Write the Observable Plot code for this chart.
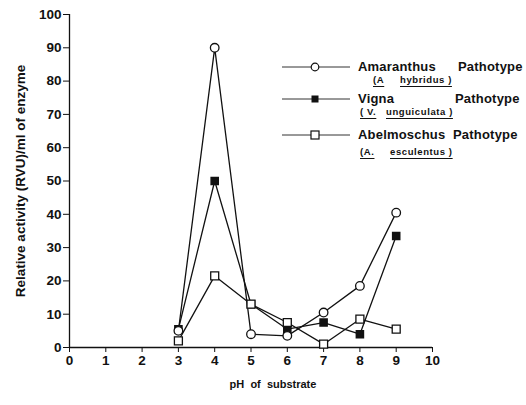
<!DOCTYPE html>
<html>
<head>
<meta charset="utf-8">
<script src="https://cdn.jsdelivr.net/npm/d3@7"></script>
<script src="https://cdn.jsdelivr.net/npm/@observablehq/plot@0.6"></script>
<style>
  html, body { margin: 0; padding: 0; background: #fff; }
  #wrap { position: relative; width: 526px; height: 405px; font-family: "Liberation Sans", Arial, sans-serif; }
  #legend { position: absolute; left: 282px; top: 0; font-weight: bold; font-size: 13px; color: #111; }
  .row { position: absolute; left: 0; height: 16px; width: 244px; }
  .row svg { position: absolute; left: 0; top: 1px; }
  .name { position: absolute; left: 76px; top: 0; white-space: nowrap; letter-spacing: 0.2px; }
  .path { position: absolute; top: 0; white-space: nowrap; letter-spacing: 0.2px; }
  .sub { position: absolute; left: 0; height: 14px; width: 244px; font-size: 9.5px; font-weight: bold; }
  .sub span { position: absolute; top: 0; white-space: nowrap; letter-spacing: 0.6px; }
  .sub u { text-decoration-thickness: 1px; text-underline-offset: 3px; }
</style>
</head>
<body>
<div id="wrap"></div>
<script>
const pH = [3, 4, 5, 6, 7, 8, 9];
const amaranthus = [5, 90, 4, 3.5, 10.5, 18.5, 40.5];
const vigna = [5.5, 50, 13, 5.5, 7.5, 4, 33.5];
const abelmoschus = [2, 21.5, 13, 7.5, 1, 8.5, 5.5];
const xTicks = [0, 1, 2, 3, 4, 5, 6, 7, 8, 9, 10];
const yTicks = [0, 10, 20, 30, 40, 50, 60, 70, 80, 90, 100];
const seriesNames = ["Amaranthus", "Vigna", "Abelmoschus"];
const seriesSubs = [["(A", "hybridus )"], ["( V.", "unguiculata )"], ["(A.", "esculentus )"]];

const rows = [];
pH.forEach((p, i) => {
  rows.push({pH: p, v: amaranthus[i], s: "Amaranthus"});
  rows.push({pH: p, v: vigna[i], s: "Vigna"});
  rows.push({pH: p, v: abelmoschus[i], s: "Abelmoschus"});
});
const A = rows.filter(d => d.s === "Amaranthus");
const V = rows.filter(d => d.s === "Vigna");
const B = rows.filter(d => d.s === "Abelmoschus");

const chart = Plot.plot({
  width: 526,
  height: 405,
  marginLeft: 69,
  marginRight: 94,
  marginTop: 14,
  marginBottom: 58,
  style: {background: "#fff", fontFamily: "'Liberation Sans', Arial, sans-serif", color: "#111"},
  x: {domain: [0, 10]},
  y: {domain: [0, 100]},
  marks: [
    Plot.ruleY([0], {stroke: "#111", strokeWidth: 1.3}),
    Plot.ruleX([0], {stroke: "#111", strokeWidth: 1.3}),
    Plot.axisX({ticks: xTicks, tickSize: 5, tickPadding: 3, fontSize: 13.5, fontWeight: "bold", label: null, stroke: "#111"}),
    Plot.axisY({ticks: yTicks, tickSize: 6, tickPadding: 2, fontSize: 13.5, fontWeight: "bold",
      label: "Relative activity (RVU)/ml of enzyme", labelAnchor: "center", labelArrow: "none", labelOffset: 54, stroke: "#111"}),
    Plot.text(["pH  of  substrate"], {frameAnchor: "bottom", dx: 22, dy: 40, fontSize: 11, fontWeight: "bold", fill: "#111"}),
    Plot.line(A, {x: "pH", y: "v", stroke: "#111", strokeWidth: 1.3}),
    Plot.line(V, {x: "pH", y: "v", stroke: "#111", strokeWidth: 1.3}),
    Plot.line(B, {x: "pH", y: "v", stroke: "#111", strokeWidth: 1.3}),
    Plot.dot(V, {x: "pH", y: "v", symbol: "square", r: 4, fill: "#111", stroke: "#111"}),
    Plot.dot(B, {x: "pH", y: "v", symbol: "square", r: 4.5, fill: "#fff", stroke: "#111", strokeWidth: 1.3}),
    Plot.dot(A, {x: "pH", y: "v", symbol: "circle", r: 4.3, fill: "#fff", stroke: "#111", strokeWidth: 1.3})
  ]
});

const wrap = document.getElementById("wrap");
wrap.appendChild(chart);

const sample = (kind) => {
  let m;
  if (kind === 0) m = '<circle cx="33" cy="7" r="3.8" fill="#fff" stroke="#111" stroke-width="1.2"/>';
  else if (kind === 1) m = '<rect x="29.5" y="3.5" width="7" height="7" fill="#111"/>';
  else m = '<rect x="29" y="3" width="8" height="8" fill="#fff" stroke="#111" stroke-width="1.2"/>';
  return `<svg width="70" height="14"><line x1="0" y1="7" x2="68" y2="7" stroke="#333" stroke-width="1"/>${m}</svg>`;
};
const legend = document.createElement("div");
legend.id = "legend";
const rowTop = [59, 91, 127];
const subTop = [74, 106, 146];
const pathLeft = [176, 173, 171];
const subLeft = [[91, 118], [78, 104], [78, 108]];
legend.innerHTML = seriesNames.map((n, i) => `
  <div class="row" style="top:${rowTop[i]}px">${sample(i)}<span class="name">${n}</span><span class="path" style="left:${pathLeft[i]}px">Pathotype</span></div>
  <div class="sub" style="top:${subTop[i]}px"><span style="left:${subLeft[i][0]}px"><u>${seriesSubs[i][0]}</u></span><span style="left:${subLeft[i][1]}px"><u>${seriesSubs[i][1]}</u></span></div>
`).join("");
wrap.appendChild(legend);
</script>
</body>
</html>
